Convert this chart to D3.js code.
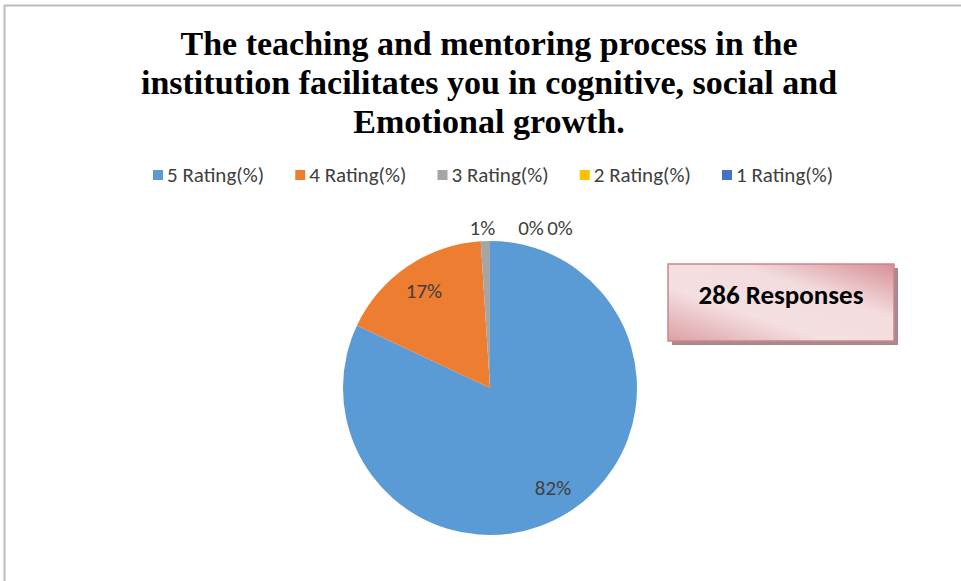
<!DOCTYPE html>
<html><head><meta charset="utf-8">
<script src="https://cdn.jsdelivr.net/npm/d3@7/dist/d3.min.js"></script>
<style>body{margin:0;background:#fff}svg{display:block}</style>
</head><body>
<svg id="c" width="961" height="581"></svg>
<script>
const titleLines = ["The teaching and mentoring process in the","institution facilitates you in cognitive, social and","Emotional growth."];
const categories = ["5 Rating(%)","4 Rating(%)","3 Rating(%)","2 Rating(%)","1 Rating(%)"];
const values = [82, 17, 1, 0, 0];
const colors = ["#5B9BD5","#ED7D31","#A5A5A5","#FFC000","#4472C4"];
const responsesLabel = "286 Responses";

const svg = d3.select("#c");
// frame lines
svg.append("line").attr("x1",4).attr("x2",961).attr("y1",5.5).attr("y2",5.5).attr("stroke","#bdbdbd").attr("stroke-width",2);
svg.append("line").attr("x1",4.5).attr("x2",4.5).attr("y1",5).attr("y2",581).attr("stroke","#bdbdbd").attr("stroke-width",2);

// title
svg.append("g").selectAll("text").data(titleLines).join("text")
  .attr("x",489).attr("y",(d,i)=>55+i*38.8)
  .attr("text-anchor","middle")
  .attr("font-family","Liberation Serif, Times New Roman, serif")
  .attr("font-weight","bold").attr("font-size",34).attr("fill","#000")
  .text(d=>d);

// legend
const lx = d3.scalePoint().domain(categories).range([153,722]);
const lg = svg.append("g").selectAll("g").data(categories).join("g")
  .attr("transform",d=>`translate(${lx(d)},175)`);
lg.append("rect").attr("x",0).attr("y",-5).attr("width",10).attr("height",10)
  .attr("fill",(d,i)=>colors[i]);
lg.append("text").attr("x",14).attr("y",7).attr("font-family","Carlito, Liberation Sans Narrow, Noto Sans, sans-serif")
  .attr("font-size",21).attr("fill","#404040").text(d=>d);

// pie
const cx=490, cy=388, r=147;
const pie = d3.pie().sort(null).value(d=>d)(values);
const arc = d3.arc().innerRadius(0).outerRadius(r);
const g = svg.append("g").attr("transform",`translate(${cx},${cy})`);
g.selectAll("path").data(pie).join("path").attr("d",arc).attr("fill",(d,i)=>colors[i]);

const labelArc = d3.arc().innerRadius(r*0.8).outerRadius(r*0.8);
const big = pie.filter(d=>d.data>=5);
const small = pie.filter(d=>d.data<5);
const lblFont = "Carlito, Noto Sans, sans-serif";
g.selectAll("text.big").data(big).join("text").attr("class","big")
  .attr("transform",d=>`translate(${labelArc.centroid(d)})`)
  .attr("text-anchor","middle").attr("dy","0.35em")
  .attr("font-family",lblFont).attr("font-size",21).attr("fill","#404040")
  .text(d=>d.data+"%");
// small slices: labels stacked above the top of the pie
g.selectAll("text.small").data(small).join("text").attr("class","small")
  .attr("x",(d,i)=> i===0 ? Math.sin((d.startAngle+d.endAngle)/2)*r - 3 : 41 + (i-1)*29)
  .attr("y",-r-13)
  .attr("text-anchor","middle").attr("dy","0.35em")
  .attr("font-family",lblFont).attr("font-size",21).attr("fill","#404040")
  .text(d=>d.data+"%");

// responses box
const defs = svg.append("defs");
const grad = defs.append("linearGradient").attr("id","bg").attr("x1","0").attr("y1","1").attr("x2","1").attr("y2","0");
grad.append("stop").attr("offset","0%").attr("stop-color","#dc9fa3");
grad.append("stop").attr("offset","35%").attr("stop-color","#f4dfe1");
grad.append("stop").attr("offset","65%").attr("stop-color","#f3dcde");
grad.append("stop").attr("offset","100%").attr("stop-color","#d78f94");
svg.append("rect").attr("x",672).attr("y",268).attr("width",226).attr("height",77).attr("fill","#a88a8c");
svg.append("rect").attr("x",668).attr("y",264).attr("width",226).attr("height",77).attr("fill","url(#bg)").attr("stroke","#c9878c").attr("stroke-width",1.5);
svg.append("text").attr("x",781).attr("y",304).attr("text-anchor","middle")
  .attr("font-family","Carlito, Open Sans, sans-serif").attr("font-weight","bold").attr("font-size",27).attr("fill","#000")
  .text(responsesLabel);
</script>
</body></html>
